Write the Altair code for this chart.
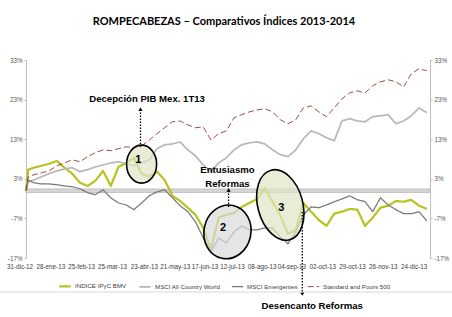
import altair as alt
import pandas as pd

# ---------------- data (% change since 31-dic-12) -------------
series_names = ["INDICE IPyC BMV", "MSCI All Country World", "MSCI Emergentes", "Standard and Poors 500"]
series_colors = ["#b7c31c", "#b8b8b8", "#7a7a7a", "#8b1a1a"]

first_dates = ["2012-12-31", "2013-01-02"]
weekly_from = "2013-01-07"   # then one value per week

ipyc = [0, 5.3,
        5.8, 6.3, 6.8, 7.5, 5.8, 4.3, 2.0, 1.2, 2.5,
        5.0, 1.2, 6.0, 7.0, 8.3, 4.3, 3.5, 4.8, 2.7, -1.3,
        -2.6, -4.3, -6.1, -9.4, -14.9, -6.8, -6.1, -5.6, -4.1, -3.1,
        -2.1, 0.7, -2.8, -6.3, -10.9, -9.9, -3.1, -5.3, -7.4, -8.9,
        -5.8, -5.3, -4.6, -4.8, -8.9, -6.8, -4.3, -3.8, -2.6, -2.8,
        -2.3, -3.8, -4.6]
acwi = [0, 2.2,
        2.7, 3.5, 4.3, 5.0, 5.5, 5.8, 4.8, 5.3, 6.0,
        6.5, 7.0, 7.3, 6.8, 6.3, 7.0, 7.8, 10.6, 11.6, 11.8,
        12.3, 10.3, 8.8, 6.5, 4.8, 7.0, 8.3, 10.3, 11.6, 12.1,
        12.3, 11.8, 10.3, 9.1, 8.6, 10.3, 13.1, 15.1, 14.4, 13.4,
        12.6, 17.6, 18.2, 17.6, 17.4, 18.7, 18.9, 19.2, 16.9, 17.6,
        18.9, 20.9, 19.7]
em = [0, 2.7,
      2.0, 1.7, 1.7, 1.5, 1.2, 1.0, 0.5, -0.5, -1.0,
      0.2, -1.8, -3.1, -3.6, -4.8, -3.1, -1.3, -0.3, 0.2, -1.8,
      -3.8, -5.3, -7.9, -11.9, -15.4, -11.9, -13.2, -10.4, -8.9, -9.9,
      -9.9, -9.4, -9.4, -11.6, -13.4, -10.4, -6.1, -4.1, -4.3, -3.6,
      -2.8, -2.1, -1.3, -2.3, -2.8, -5.3, -1.8, -3.6, -4.8, -5.8,
      -5.8, -5.3, -7.6]
sp500 = [0, 3.5,
         4.0, 4.5, 5.0, 6.3, 7.0, 7.8, 7.3, 8.6, 9.6,
         10.3, 10.1, 10.6, 11.1, 10.8, 11.3, 12.8, 14.4, 15.9, 17.4,
         17.6, 16.6, 15.9, 16.1, 12.8, 14.4, 15.1, 18.4, 19.2, 19.9,
         20.4, 20.7, 19.9, 17.9, 16.9, 17.9, 20.9, 21.4, 19.9, 18.7,
         20.9, 23.2, 24.7, 25.2, 24.7, 26.5, 27.5, 28.0, 27.5, 26.2,
         29.5, 30.8, 30.3]

tick_dates = ["2012-12-31", "2013-01-28", "2013-02-25", "2013-03-25", "2013-04-23", "2013-05-21",
              "2013-06-17", "2013-07-12", "2013-08-08", "2013-09-04", "2013-10-02", "2013-10-29",
              "2013-11-26", "2013-12-24"]
tick_labels = ["31-dic-12", "28-ene-13", "25-feb-13", "25-mar-13", "23-abr-13", "21-may-13",
               "17-jun-13", "12-jul-13", "08-ago-13", "04-sep-13", "02-oct-13", "29-oct-13",
               "26-nov-13", "24-dic-13"]
y_ticks = [-17, -7, 3, 13, 23, 33]

# annotations (in data coordinates)
ell_ids = [1, 2, 3]
ell_dates = ["2013-04-15", "2013-07-02", "2013-08-19"]
ell_vals = [6.7, -10.4, -3.6]
num_dates = ["2013-04-12", "2013-06-28", "2013-08-20"]
num_vals = [7.7, -9.3, -4.4]

note_texts = ["Decepción PIB Mex. 1T13", "Entusiasmo", "Reformas", "Desencanto Reformas"]
note_dates = ["2013-04-20", "2013-07-02", "2013-07-02", "2013-09-17"]
note_vals = [23.2, 5.1, 1.8, -29.1]

arrow_dates = ["2013-04-14", "2013-07-03", "2013-09-08"]
arrow_from = [11.0, -4.1, -5.4]
arrow_to = [20.6, 0.2, -26.1]
arrow_dir = ["up", "up", "down"]

# ---------------- build tables ----------------
dates = first_dates + list(pd.date_range(weekly_from, periods=len(ipyc) - 2, freq="7D").strftime("%Y-%m-%d"))
frames = []
for name, vals in zip(series_names, [ipyc, acwi, em, sp500]):
    frames.append(pd.DataFrame({"date": dates, "value": vals, "series": name}))
df = pd.concat(frames, ignore_index=True)

ell_df = pd.DataFrame({"id": ell_ids, "date": ell_dates, "value": ell_vals})
num_df = pd.DataFrame({"label": [str(i) for i in ell_ids], "date": num_dates, "value": num_vals})
note_df = pd.DataFrame({"text": note_texts, "date": note_dates, "value": note_vals})
arr_df = pd.DataFrame({"date": arrow_dates, "v0": arrow_from, "v1": arrow_to, "dir": arrow_dir})
band_df = pd.DataFrame({"lo": [-0.45], "hi": [0.45]})
tick_df = pd.DataFrame({"date": tick_dates, "label": tick_labels})

W, H = 404, 198
FONT = "Liberation Sans"

xsc = alt.Scale(type="utc", domain=[alt.DateTime(year=2012, month=12, date=31, utc=True),
                                    alt.DateTime(year=2014, month=1, date=2, utc=True)])
ysc = alt.Scale(domain=[-17, 33], nice=False, zero=False)

yl_axis = alt.Axis(values=y_ticks, labelExpr="datum.value + '%'", grid=False, title=None,
                   domainColor="#bfbfbf", tickColor="#bfbfbf", tickSize=2, labelPadding=2,
                   labelFontSize=6.3, labelColor="#595959", labelFont=FONT, orient="left")
yr_axis = alt.Axis(values=y_ticks, labelExpr="datum.value + '%'", grid=False, title=None,
                   domainColor="#bfbfbf", tickColor="#bfbfbf", tickSize=2, labelPadding=2,
                   labelFontSize=6.3, labelColor="#595959", labelFont=FONT, orient="right")

X = alt.X("date:T", scale=xsc, axis=None)
Y = alt.Y("value:Q", scale=ysc, axis=None)

band = alt.Chart(band_df).mark_rect(fill="#d6d6d6", stroke="#a8a8a8", strokeWidth=0.6).encode(
    x=alt.value(0), x2=alt.value(W),
    y=alt.Y("lo:Q", scale=ysc, axis=None), y2="hi:Q")

leg = alt.Legend(title=None, orient="none", legendX=32, legendY=219, direction="horizontal",
                 symbolType="stroke", symbolSize=130, labelFontSize=6.2, labelFont=FONT,
                 labelColor="#404040", labelOffset=3, columnPadding=8, padding=0)

lines = alt.Chart(df).mark_line(strokeJoin="round").encode(
    x=X,
    y=alt.Y("value:Q", scale=ysc, axis=yl_axis),
    color=alt.Color("series:N", scale=alt.Scale(domain=series_names, range=series_colors),
                    sort=series_names, legend=leg),
    strokeDash=alt.StrokeDash("series:N", scale=alt.Scale(domain=series_names,
                              range=[[1, 0], [1, 0], [1, 0], [6, 3]]), sort=series_names, legend=leg),
    strokeWidth=alt.StrokeWidth("series:N", scale=alt.Scale(domain=series_names,
                                range=[2.2, 0.8, 1.0, 1.7]), sort=series_names, legend=leg),
)

right = alt.Chart(df).mark_line(opacity=0).encode(
    x=X, y=alt.Y("value:Q", scale=ysc, axis=yr_axis), detail="series:N")

xlabels = alt.Chart(tick_df).mark_text(font=FONT, fontSize=6.3, color="#404040", baseline="top",
                                       dx=-6).encode(x=X, y=alt.value(H + 6), text="label:N")

def ell_path(r):
    return "M0,-1A%s,1 0 1,1 0,1A%s,1 0 1,1 0,-1Z" % (r, r)

ell_specs = [(1, 0.79, 1444, 0, "#dfe5c6"), (2, 0.87, 2916, 12, "#dadada"), (3, 0.625, 5184, 345, "#dfe5c6")]
ells = []
for eid, ratio, size, ang, fill in ell_specs:
    ells.append(alt.Chart(ell_df[ell_df.id == eid]).mark_point(
        shape=ell_path(ratio), size=size, angle=ang, filled=True, fill=fill, fillOpacity=0.7,
        stroke="black", strokeWidth=1.6, opacity=1).encode(x=X, y=Y))

nums = alt.Chart(num_df).mark_text(font=FONT, fontWeight="bold", fontSize=11, color="black",
                                   baseline="middle").encode(x=X, y=Y, text="label:N")
notes = alt.Chart(note_df).mark_text(font=FONT, fontWeight="bold", fontSize=9.6, color="black",
                                     baseline="middle").encode(x=X, y=Y, text="text:N")
arrows = alt.Chart(arr_df).mark_rule(color="black", strokeWidth=1.3, strokeDash=[1.5, 1.5]).encode(
    x=X, y=alt.Y("v0:Q", scale=ysc, axis=None), y2="v1:Q")
heads_up = alt.Chart(arr_df[arr_df.dir == "up"]).mark_point(shape="triangle-up", filled=True,
                                                            color="black", size=18, opacity=1).encode(
    x=X, y=alt.Y("v1:Q", scale=ysc, axis=None))
heads_dn = alt.Chart(arr_df[arr_df.dir == "down"]).mark_point(shape="triangle-down", filled=True,
                                                              color="black", size=18, opacity=1).encode(
    x=X, y=alt.Y("v1:Q", scale=ysc, axis=None))

title = alt.Chart(pd.DataFrame({"t": ["ROMPECABEZAS – Comparativos Índices 2013-2014"]})).mark_text(
    font="Lato", fontWeight="bold", fontSize=11, color="black", baseline="middle").encode(
    x=alt.value(198), y=alt.value(-38), text="t:N")
sep = alt.Chart(pd.DataFrame({"a": [0]})).mark_rule(color="#d9d9d9", strokeWidth=1).encode(
    x=alt.value(-26), x2=alt.value(W + 22), y=alt.value(232))

chart = alt.layer(band, right, lines, xlabels, *ells, arrows, heads_up, heads_dn, nums, notes, title, sep
                  ).resolve_axis(y="independent").properties(
    width=W, height=H, autosize="none",
    padding={"left": 26, "top": 60, "right": 22, "bottom": 59},
    background="white",
).configure_view(stroke=None)

chart.save("out.html", embed_options={"renderer": "svg", "actions": False})
